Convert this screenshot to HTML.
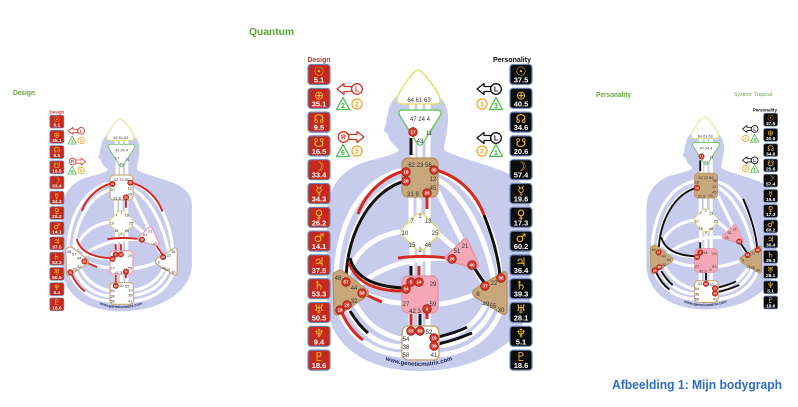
<!DOCTYPE html>
<html><head><meta charset="utf-8">
<style>
html,body{margin:0;padding:0;background:#fff}
svg{display:block}
.gt{font-family:"Liberation Sans",sans-serif;font-size:6px;fill:#333;text-anchor:middle}
.cc circle{fill:#d7392c;stroke:#9b1f15;stroke-width:.8}
.ct{font-family:"Liberation Sans",sans-serif;font-size:4.5px;font-weight:bold;fill:#fff;text-anchor:middle}
.dc rect{fill:#c4291d;stroke:#6e87b8;stroke-width:1.2}
.pc rect{fill:#0c0c0c;stroke:#6e87b8;stroke-width:1.2}
.gl{font-family:"DejaVu Sans",sans-serif;font-size:12px;fill:#f3c233;text-anchor:middle}
.nm{font-family:"Liberation Sans",sans-serif;font-size:7.5px;font-weight:bold;fill:#fff;text-anchor:middle}
.ar{font-family:"Liberation Sans",sans-serif;font-weight:bold;font-size:7px;text-anchor:middle}
.gm{font-family:"Liberation Sans",sans-serif;font-weight:bold;font-size:6px;fill:#1b2456}
</style></head><body>
<svg width="798" height="407" viewBox="0 0 798 407" xmlns="http://www.w3.org/2000/svg">
<defs>
<g id="bg">
<path fill="#c8ccec" d="M399,150C396,146 392,144 391,141C389,139 388,136 388,134C386,133 383,131 384,129C385,127 386,125 386,123C386,120 387,117 388,113C390,98 402,89 417,89C436,89 449,100 448,120C448,132 444,142 444,150C455,157 480,162 505,172C522,180 530,190 530,205L530,300C528,340 480,371 420,371C365,371 330,345 327,305L327,210C328,185 345,168 365,162C382,157 395,155 399,150Z"/>
<g fill="none" stroke="#fff" stroke-width="5" stroke-linecap="round">
<path d="M412,103V112M420,103V112M428,103V112M413,136V160M420,142V160M428,136V160M411,195V220M419,195V214M428,195V220M412,245V278M420,250V278M428,245V278M411,312V328M420,312V328M428,312V328"/>
<path d="M404,170C362,178 338,222 336,276"/>
<path d="M405,180C370,190 347,230 345,280"/>
<path d="M350,262C356,282 380,288 404,289"/>
<path d="M399,232C375,236 356,250 347,276"/>
<path d="M451,259C420,256 385,263 356,287"/>
<path d="M437,233L457,250"/>
<path d="M436,188L463,243"/>
<path d="M472,264L485,286"/>
<path d="M436,171C470,180 497,225 500,278"/>
<path d="M436,179C463,192 486,235 494,282"/>
<path d="M437,304C450,304 465,298 477,294"/>
<path d="M403,303C388,303 375,298 362,293"/>
<path d="M354,301C365,325 385,336 402,339"/>
<path d="M347,306C358,333 380,346 402,347"/>
<path d="M339,310C350,340 378,354 402,355"/>
<path d="M437,338C460,336 478,322 486,304"/>
<path d="M437,346C465,344 485,328 493,306"/>
<path d="M437,355C470,353 492,335 501,310"/>
</g>
</g>
<path id="hd" d="M418,70C423,70 440,94 440,99C440,103 438,104 434,104L403,104C399,104 397,103 397,99C397,94 413,70 418,70Z"/>
<path id="aj" d="M402,110L437,110C441,110 442,113 440,116L423,143C421,146 419,146 417,143L400,116C398,113 399,110 402,110Z"/>
<rect id="th" x="402" y="158" width="36" height="39" rx="6"/>
<rect id="gc" x="405" y="217" width="30" height="30" rx="7" transform="rotate(45 420 232)"/>
<path id="ht" d="M462,241C464,238 467,238 468,241L478,263C479,267 477,269 473,268L449,261C445,260 444,257 447,255Z"/>
<rect id="sc" x="402" y="276" width="36" height="37" rx="6"/>
<rect id="rt" x="402" y="326" width="37" height="34" rx="6"/>
<path id="sp" d="M336,272C338,270 341,270 344,272L366,289C369,291 369,295 366,297L340,314C337,316 334,315 334,311L333,276C333,274 334,272 336,272Z"/>
<path id="so" d="M503,272C506,271 507,273 507,276L507,310C507,314 505,315 502,314L475,297C472,295 472,291 475,289Z"/>
<path id="gmp" d="M378,357Q419,375 460,357" fill="none"/>
</defs>

<text x="249" y="35" font-family="Liberation Sans, sans-serif" font-weight="bold" font-size="10.5" fill="#5ba02f" textLength="45" lengthAdjust="spacingAndGlyphs">Quantum</text>
<text x="13" y="95" font-family="Liberation Sans, sans-serif" font-weight="bold" font-size="7.5" fill="#6aa341" textLength="22" lengthAdjust="spacingAndGlyphs">Design</text>
<text x="596" y="97" font-family="Liberation Sans, sans-serif" font-weight="bold" font-size="7.5" fill="#6aa341" textLength="35" lengthAdjust="spacingAndGlyphs">Personality</text>
<text x="734" y="96" font-family="Liberation Sans, sans-serif" font-size="5.5" fill="#6aa341" textLength="38" lengthAdjust="spacingAndGlyphs">System: Tropical</text>
<text x="612" y="389" font-family="Liberation Sans, sans-serif" font-weight="bold" font-size="13" fill="#2f6dc0" textLength="170" lengthAdjust="spacingAndGlyphs">Afbeelding 1: Mijn bodygraph</text>

<!-- CENTER CHART -->
<g>
<use href="#bg"/>
<g fill="none" stroke-width="3">
<path stroke="#d42a1f" d="M404,171C385,176 366,192 358,214"/>
<path stroke="#111" d="M405,181C372,190 348,230 346,278"/>
<path stroke="#d42a1f" d="M436,170C460,177 476,194 484,215"/>
<path stroke="#111" d="M484,215C492,235 498,255 500,276"/>
<path stroke="#d42a1f" d="M427,197V209"/>
<path stroke="#d42a1f" d="M448,258C430,256 412,256 398,258"/>
<path stroke="#111" d="M473,266L485,284"/>
<path stroke="#111" d="M411,138V155"/>
<path stroke="#111" d="M411,266V279"/>
<path stroke="#d42a1f" d="M419,266V279"/>
<path stroke="#d42a1f" d="M349,262C356,285 380,291 402,291"/>
<path stroke="#111" d="M350,258C356,281 380,287 404,288"/>
<path stroke="#d42a1f" d="M366,295L382,302"/>
<path stroke="#d42a1f" d="M411,314V327"/>
<path stroke="#111" d="M420,314V327"/>
<path stroke="#d42a1f" d="M427,312V319"/>
<path stroke="#d42a1f" d="M342,313C348,326 356,335 363,340"/>
<path stroke="#111" d="M350,311C356,321 362,328 368,333"/>
<path stroke="#111" d="M438,337C450,334 460,331 467,327"/>
<path stroke="#111" d="M438,344C452,341 462,337 472,333"/>
</g>
<use href="#hd" fill="#fff" stroke="#e3e07a" stroke-width="1.5"/>
<use href="#aj" fill="#fff" stroke="#72c66a" stroke-width="1.5"/>
<use href="#th" fill="#c9a77c" stroke="#b3905f" stroke-width="1.2"/>
<use href="#gc" fill="#fff" stroke="#e3e07a" stroke-width="1.5"/>
<use href="#ht" fill="#f4a7b6" stroke="#e38ea0" stroke-width="1.2"/>
<use href="#sc" fill="#f4a7b6" stroke="#e38ea0" stroke-width="1.2"/>
<use href="#rt" fill="#fff" stroke="#c9a77c" stroke-width="1.5"/>
<use href="#sp" fill="#c9a77c" stroke="#b3905f" stroke-width="1.2"/>
<use href="#so" fill="#c9a77c" stroke="#b3905f" stroke-width="1.2"/>
<g class="gt">
<text x="419" y="102">64 61 63</text><text x="420" y="121">47 24 4</text><text x="413" y="134">17</text><text x="429" y="135">11</text><text x="420" y="143">43</text>
<text x="420" y="167">62 23 56</text><text x="406" y="174">16</text><text x="406" y="183">20</text><text x="434" y="172">35</text><text x="433" y="181">12</text><text x="433" y="190">45</text><text x="413" y="196">31 8</text><text x="427" y="195">33</text>
<text x="420" y="218">1</text><text x="412" y="223">7</text><text x="428" y="223">13</text><text x="405" y="235">10</text><text x="435" y="235">25</text><text x="412" y="247">15</text><text x="428" y="247">46</text><text x="420" y="252">2</text>
<text x="465" y="248">21</text><text x="457" y="253">51</text><text x="452" y="261">26</text><text x="472" y="267">40</text>
<text x="411" y="284">5</text><text x="419" y="284">14</text><text x="433" y="286">29</text><text x="406" y="291">34</text><text x="406" y="306">27</text><text x="433" y="306">59</text><text x="415" y="313">42 3</text><text x="427" y="311">9</text>
<text x="411" y="333">53</text><text x="420" y="333">60</text><text x="429" y="334">52</text><text x="406" y="341">54</text><text x="434" y="340">19</text><text x="406" y="349">38</text><text x="434" y="348">39</text><text x="406" y="357">58</text><text x="434" y="357">41</text>
<text x="338" y="280">48</text><text x="346" y="284">57</text><text x="354" y="290">44</text><text x="362" y="295">50</text><text x="354" y="303">32</text><text x="347" y="307">28</text><text x="340" y="312">18</text>
<text x="501" y="280">36</text><text x="494" y="285">22</text><text x="485" y="288">37</text><text x="478" y="296">6</text><text x="486" y="306">49</text><text x="493" y="308">55</text><text x="501" y="312">30</text>
</g>
<g class="cc">
<circle cx="413" cy="132" r="4.3"/><circle cx="406" cy="172" r="4.3"/><circle cx="406" cy="181" r="4.3"/><circle cx="434" cy="170" r="4.3"/><circle cx="427" cy="193" r="4.3"/>
<circle cx="452" cy="259" r="4.3"/><circle cx="472" cy="265" r="4.3"/><circle cx="411" cy="282" r="4.3"/><circle cx="419" cy="282" r="4.3"/><circle cx="406" cy="289" r="4.3"/>
<circle cx="427" cy="309" r="4.3"/><circle cx="411" cy="331" r="4.3"/><circle cx="420" cy="331" r="4.3"/><circle cx="434" cy="338" r="4.3"/><circle cx="434" cy="346" r="4.3"/>
<circle cx="346" cy="282" r="4.3"/><circle cx="362" cy="293" r="4.3"/><circle cx="347" cy="305" r="4.3"/><circle cx="340" cy="310" r="4.3"/><circle cx="501" cy="278" r="4.3"/><circle cx="485" cy="286" r="4.3"/>
</g>
<g class="ct">
<text x="413" y="133.6">17</text><text x="406" y="173.6">16</text><text x="406" y="182.6">20</text><text x="434" y="171.6">35</text><text x="427" y="194.6">33</text>
<text x="452" y="260.6">26</text><text x="472" y="266.6">40</text><text x="411" y="283.6">5</text><text x="419" y="283.6">14</text><text x="406" y="290.6">34</text>
<text x="427" y="310.6">9</text><text x="411" y="332.6">53</text><text x="420" y="332.6">60</text><text x="434" y="339.6">19</text><text x="434" y="347.6">39</text>
<text x="346" y="283.6">57</text><text x="362" y="294.6">50</text><text x="347" y="306.6">28</text><text x="340" y="311.6">18</text><text x="501" y="279.6">36</text><text x="485" y="287.6">37</text>
</g>
<text class="gm"><textPath href="#gmp" startOffset="50%" text-anchor="middle">www.geneticmatrix.com</textPath></text>

<text x="319" y="62" font-family="Liberation Sans, sans-serif" font-weight="bold" font-size="7.5" fill="#c8342a" text-anchor="middle" textLength="23" lengthAdjust="spacingAndGlyphs">Design</text>
<g class="dc">
<rect x="308" y="64.5" width="22" height="20" rx="3"/><rect x="308" y="88.3" width="22" height="20" rx="3"/><rect x="308" y="112.1" width="22" height="20" rx="3"/><rect x="308" y="135.9" width="22" height="20" rx="3"/><rect x="308" y="159.7" width="22" height="20" rx="3"/><rect x="308" y="183.5" width="22" height="20" rx="3"/><rect x="308" y="207.3" width="22" height="20" rx="3"/><rect x="308" y="231.1" width="22" height="20" rx="3"/><rect x="308" y="254.9" width="22" height="20" rx="3"/><rect x="308" y="278.7" width="22" height="20" rx="3"/><rect x="308" y="302.5" width="22" height="20" rx="3"/><rect x="308" y="326.3" width="22" height="20" rx="3"/><rect x="308" y="350.1" width="22" height="20" rx="3"/>
</g>
<g class="gl">
<text x="319" y="75.5">☉</text><text x="319" y="99.3">⊕</text><text x="319" y="123.1">☊</text><text x="319" y="146.9">☋</text><text x="319" y="170.7">☽</text><text x="319" y="194.5">☿</text><text x="319" y="218.3">♀</text><text x="319" y="242.1">♂</text><text x="319" y="265.9">♃</text><text x="319" y="289.7">♄</text><text x="319" y="313.5">♅</text><text x="319" y="337.3">♆</text><text x="319" y="361.1">♇</text>
</g>
<g class="nm">
<text x="319" y="82.5">5.1</text><text x="319" y="106.3">35.1</text><text x="319" y="130.1">9.5</text><text x="319" y="153.9">16.5</text><text x="319" y="177.7">33.4</text><text x="319" y="201.5">34.3</text><text x="319" y="225.3">26.2</text><text x="319" y="249.1">14.1</text><text x="319" y="272.9">37.5</text><text x="319" y="296.7">53.3</text><text x="319" y="320.5">50.5</text><text x="319" y="344.3">9.4</text><text x="319" y="368.1">18.6</text>
</g>
<g stroke-width="1.3" stroke-linejoin="round" fill="#fff">
<path stroke="#d8352a" d="M337,89L344,83.5V86.5H351.5V91.5H344V94.5Z"/>
<circle cx="357" cy="89" r="5.3" stroke="#d8352a"/>
<path stroke="#d8352a" d="M364,137L357,131.5V134.5H348.5V139.5H357V142.5Z"/>
<circle cx="343.5" cy="137" r="5.3" stroke="#d8352a"/>
<path stroke="#4dbb4d" d="M343,97.5L349.5,109.5H336.5Z"/>
<path stroke="#4dbb4d" d="M343,144.5L349.5,156.5H336.5Z"/>
<circle cx="357" cy="104" r="5" stroke="#f2a42a"/>
<circle cx="357" cy="151" r="5" stroke="#f2a42a"/>
</g>
<g class="ar">
<text x="357" y="91.5" fill="#d8352a">L</text><text x="343.5" y="139.5" fill="#d8352a">R</text>
<text x="343" y="107.8" fill="#3da83d">2</text><text x="357" y="106.5" fill="#f2a42a">2</text>
<text x="343" y="154.8" fill="#3da83d">6</text><text x="357" y="153.5" fill="#f2a42a">5</text>
</g>

<text x="512" y="62" font-family="Liberation Sans, sans-serif" font-weight="bold" font-size="7.5" fill="#111" text-anchor="middle" textLength="38" lengthAdjust="spacingAndGlyphs">Personality</text>
<g class="pc">
<rect x="510" y="64.5" width="22" height="20" rx="3"/><rect x="510" y="88.3" width="22" height="20" rx="3"/><rect x="510" y="112.1" width="22" height="20" rx="3"/><rect x="510" y="135.9" width="22" height="20" rx="3"/><rect x="510" y="159.7" width="22" height="20" rx="3"/><rect x="510" y="183.5" width="22" height="20" rx="3"/><rect x="510" y="207.3" width="22" height="20" rx="3"/><rect x="510" y="231.1" width="22" height="20" rx="3"/><rect x="510" y="254.9" width="22" height="20" rx="3"/><rect x="510" y="278.7" width="22" height="20" rx="3"/><rect x="510" y="302.5" width="22" height="20" rx="3"/><rect x="510" y="326.3" width="22" height="20" rx="3"/><rect x="510" y="350.1" width="22" height="20" rx="3"/>
</g>
<g class="gl">
<text x="521" y="75.5">☉</text><text x="521" y="99.3">⊕</text><text x="521" y="123.1">☊</text><text x="521" y="146.9">☋</text><text x="521" y="170.7">☽</text><text x="521" y="194.5">☿</text><text x="521" y="218.3">♀</text><text x="521" y="242.1">♂</text><text x="521" y="265.9">♃</text><text x="521" y="289.7">♄</text><text x="521" y="313.5">♅</text><text x="521" y="337.3">♆</text><text x="521" y="361.1">♇</text>
</g>
<g class="nm">
<text x="521" y="82.5">37.5</text><text x="521" y="106.3">40.5</text><text x="521" y="130.1">34.6</text><text x="521" y="153.9">20.6</text><text x="521" y="177.7">57.4</text><text x="521" y="201.5">19.6</text><text x="521" y="225.3">17.3</text><text x="521" y="249.1">60.2</text><text x="521" y="272.9">36.4</text><text x="521" y="296.7">39.3</text><text x="521" y="320.5">28.1</text><text x="521" y="344.3">5.1</text><text x="521" y="368.1">18.6</text>
</g>
<g stroke-width="1.3" stroke-linejoin="round" fill="#fff">
<path stroke="#111" d="M477,89L484,83.5V86.5H490.7V91.5H484V94.5Z"/>
<circle cx="496" cy="89" r="5.3" stroke="#111"/>
<path stroke="#111" d="M477,138L484,132.5V135.5H490.7V140.5H484V143.5Z"/>
<circle cx="496" cy="138" r="5.3" stroke="#111"/>
<circle cx="482" cy="104" r="5" stroke="#f2a42a"/>
<circle cx="482" cy="151" r="5" stroke="#f2a42a"/>
<path stroke="#4dbb4d" d="M496,97.5L502.5,109.5H489.5Z"/>
<path stroke="#4dbb4d" d="M496,144.5L502.5,156.5H489.5Z"/>
</g>
<g class="ar">
<text x="496" y="91.5" fill="#111">L</text><text x="496" y="140.5" fill="#111">L</text>
<text x="482" y="106.5" fill="#f2a42a">1</text><text x="496" y="107.8" fill="#3da83d">3</text>
<text x="482" y="153.5" fill="#f2a42a">2</text><text x="496" y="154.8" fill="#3da83d">1</text>
</g>
</g>

<!-- LEFT (DESIGN) CHART -->
<g transform="matrix(0.64 0 0 0.64 -147.3 73.9)">
<use href="#bg"/>
<g fill="none" stroke-width="3" stroke="#d42a1f">
<path d="M404,171C385,176 366,192 358,214"/>
<path d="M436,170C460,177 476,194 484,215"/>
<path d="M427,197V209"/>
<path d="M448,258C430,256 412,256 398,258"/>
<path d="M473,266L485,284"/>
<path d="M411,266V279"/>
<path d="M419,266V279"/>
<path d="M350,258C356,281 380,287 404,288"/>
<path d="M366,295L382,302"/>
<path d="M411,314V327"/>
<path d="M427,312V319"/>
<path d="M342,313C348,326 356,335 363,340"/>
</g>
<use href="#hd" fill="#fff" stroke="#e3e07a" stroke-width="1.5"/>
<use href="#aj" fill="#fff" stroke="#72c66a" stroke-width="1.5"/>
<use href="#th" fill="#fff" stroke="#c9a77c" stroke-width="1.8"/>
<use href="#gc" fill="#fff" stroke="#e3e07a" stroke-width="1.5"/>
<use href="#ht" fill="#fff" stroke="#eb9aab" stroke-width="1.8"/>
<use href="#sc" fill="#fff" stroke="#eb9aab" stroke-width="1.8"/>
<use href="#rt" fill="#fff" stroke="#c9a77c" stroke-width="1.8"/>
<use href="#sp" fill="#fff" stroke="#c9a77c" stroke-width="1.8"/>
<use href="#so" fill="#fff" stroke="#c9a77c" stroke-width="1.8"/>
<g class="gt">
<text x="419" y="102">64 61 63</text><text x="420" y="121">47 24 4</text><text x="413" y="134">17</text><text x="429" y="135">11</text><text x="420" y="143">43</text>
<text x="420" y="167">62 23 56</text><text x="406" y="174">16</text><text x="406" y="183">20</text><text x="434" y="172">35</text><text x="433" y="181">12</text><text x="433" y="190">45</text><text x="413" y="196">31 8</text><text x="427" y="195">33</text>
<text x="420" y="218">1</text><text x="412" y="223">7</text><text x="428" y="223">13</text><text x="405" y="235">10</text><text x="435" y="235">25</text><text x="412" y="247">15</text><text x="428" y="247">46</text><text x="420" y="252">2</text>
<text x="465" y="248">21</text><text x="457" y="253">51</text><text x="452" y="261">26</text><text x="472" y="267">40</text>
<text x="411" y="284">5</text><text x="419" y="284">14</text><text x="433" y="286">29</text><text x="406" y="291">34</text><text x="406" y="306">27</text><text x="433" y="306">59</text><text x="415" y="313">42 3</text><text x="427" y="311">9</text>
<text x="411" y="333">53</text><text x="420" y="333">60</text><text x="429" y="334">52</text><text x="406" y="341">54</text><text x="434" y="340">19</text><text x="406" y="349">38</text><text x="434" y="348">39</text><text x="406" y="357">58</text><text x="434" y="357">41</text>
<text x="338" y="280">48</text><text x="346" y="284">57</text><text x="354" y="290">44</text><text x="362" y="295">50</text><text x="354" y="303">32</text><text x="347" y="307">28</text><text x="340" y="312">18</text>
<text x="501" y="280">36</text><text x="494" y="285">22</text><text x="485" y="288">37</text><text x="478" y="296">6</text><text x="486" y="306">49</text><text x="493" y="308">55</text><text x="501" y="312">30</text>
</g>
<g class="cc">
<circle cx="411" cy="282" r="4.3"/><circle cx="434" cy="170" r="4.3"/><circle cx="427" cy="309" r="4.3"/><circle cx="406" cy="172" r="4.3"/><circle cx="427" cy="193" r="4.3"/><circle cx="406" cy="289" r="4.3"/>
<circle cx="452" cy="259" r="4.3"/><circle cx="419" cy="282" r="4.3"/><circle cx="485" cy="286" r="4.3"/><circle cx="411" cy="331" r="4.3"/><circle cx="362" cy="293" r="4.3"/><circle cx="340" cy="310" r="4.3"/>
</g>
<g class="ct">
<text x="411" y="283.6">5</text><text x="434" y="171.6">35</text><text x="427" y="310.6">9</text><text x="406" y="173.6">16</text><text x="427" y="194.6">33</text><text x="406" y="290.6">34</text>
<text x="452" y="260.6">26</text><text x="419" y="283.6">14</text><text x="485" y="287.6">37</text><text x="411" y="332.6">53</text><text x="362" y="294.6">50</text><text x="340" y="311.6">18</text>
</g>
<text class="gm"><textPath href="#gmp" startOffset="50%" text-anchor="middle">www.geneticmatrix.com</textPath></text>
<text x="319" y="62" font-family="Liberation Sans, sans-serif" font-weight="bold" font-size="7.5" fill="#c8342a" text-anchor="middle" textLength="23" lengthAdjust="spacingAndGlyphs">Design</text>
<g class="dc">
<rect x="308" y="64.5" width="22" height="20" rx="3"/><rect x="308" y="88.3" width="22" height="20" rx="3"/><rect x="308" y="112.1" width="22" height="20" rx="3"/><rect x="308" y="135.9" width="22" height="20" rx="3"/><rect x="308" y="159.7" width="22" height="20" rx="3"/><rect x="308" y="183.5" width="22" height="20" rx="3"/><rect x="308" y="207.3" width="22" height="20" rx="3"/><rect x="308" y="231.1" width="22" height="20" rx="3"/><rect x="308" y="254.9" width="22" height="20" rx="3"/><rect x="308" y="278.7" width="22" height="20" rx="3"/><rect x="308" y="302.5" width="22" height="20" rx="3"/><rect x="308" y="326.3" width="22" height="20" rx="3"/><rect x="308" y="350.1" width="22" height="20" rx="3"/>
</g>
<g class="gl">
<text x="319" y="75.5">☉</text><text x="319" y="99.3">⊕</text><text x="319" y="123.1">☊</text><text x="319" y="146.9">☋</text><text x="319" y="170.7">☽</text><text x="319" y="194.5">☿</text><text x="319" y="218.3">♀</text><text x="319" y="242.1">♂</text><text x="319" y="265.9">♃</text><text x="319" y="289.7">♄</text><text x="319" y="313.5">♅</text><text x="319" y="337.3">♆</text><text x="319" y="361.1">♇</text>
</g>
<g class="nm">
<text x="319" y="82.5">5.1</text><text x="319" y="106.3">35.1</text><text x="319" y="130.1">9.5</text><text x="319" y="153.9">16.5</text><text x="319" y="177.7">33.4</text><text x="319" y="201.5">34.3</text><text x="319" y="225.3">26.2</text><text x="319" y="249.1">14.1</text><text x="319" y="272.9">37.5</text><text x="319" y="296.7">53.3</text><text x="319" y="320.5">50.5</text><text x="319" y="344.3">9.4</text><text x="319" y="368.1">18.6</text>
</g>
<g stroke-width="1.3" stroke-linejoin="round" fill="#fff">
<path stroke="#d8352a" d="M337,89L344,83.5V86.5H351.5V91.5H344V94.5Z"/>
<circle cx="357" cy="89" r="5.3" stroke="#d8352a"/>
<path stroke="#d8352a" d="M364,137L357,131.5V134.5H348.5V139.5H357V142.5Z"/>
<circle cx="343.5" cy="137" r="5.3" stroke="#d8352a"/>
<path stroke="#4dbb4d" d="M343,97.5L349.5,109.5H336.5Z"/>
<path stroke="#4dbb4d" d="M343,144.5L349.5,156.5H336.5Z"/>
<circle cx="357" cy="104" r="5" stroke="#f2a42a"/>
<circle cx="357" cy="151" r="5" stroke="#f2a42a"/>
</g>
<g class="ar">
<text x="357" y="91.5" fill="#d8352a">L</text><text x="343.5" y="139.5" fill="#d8352a">R</text>
<text x="343" y="107.8" fill="#3da83d">2</text><text x="357" y="106.5" fill="#f2a42a">2</text>
<text x="343" y="154.8" fill="#3da83d">6</text><text x="357" y="153.5" fill="#f2a42a">5</text>
</g>
</g>

<!-- RIGHT (PERSONALITY) CHART -->
<g transform="matrix(0.64 0 0 0.64 437.2 72)">
<use href="#bg"/>
<g fill="none" stroke-width="3" stroke="#111">
<path d="M411,138V155"/>
<path d="M405,181C372,190 348,230 346,278"/>
<path d="M478,198C490,225 498,250 500,276"/>
<path d="M473,266L485,284"/>
<path d="M411,266V279"/>
<path d="M350,258C356,281 380,287 404,288"/>
<path d="M420,314V327"/>
<path d="M350,311C356,321 362,328 368,333"/>
<path d="M342,313C348,326 356,335 363,340"/>
<path d="M438,337C450,334 460,331 467,327"/>
<path d="M438,344C452,341 462,337 472,333"/>
</g>
<use href="#hd" fill="#fff" stroke="#e3e07a" stroke-width="1.5"/>
<use href="#aj" fill="#fff" stroke="#72c66a" stroke-width="1.5"/>
<use href="#th" fill="#c9a77c" stroke="#b3905f" stroke-width="1.2"/>
<use href="#gc" fill="#fff" stroke="#e3e07a" stroke-width="1.5"/>
<use href="#ht" fill="#f4a7b6" stroke="#e38ea0" stroke-width="1.2"/>
<use href="#sc" fill="#f4a7b6" stroke="#e38ea0" stroke-width="1.2"/>
<use href="#rt" fill="#fff" stroke="#c9a77c" stroke-width="1.8"/>
<use href="#sp" fill="#c9a77c" stroke="#b3905f" stroke-width="1.2"/>
<use href="#so" fill="#c9a77c" stroke="#b3905f" stroke-width="1.2"/>
<g class="gt">
<text x="419" y="102">64 61 63</text><text x="420" y="121">47 24 4</text><text x="413" y="134">17</text><text x="429" y="135">11</text><text x="420" y="143">43</text>
<text x="420" y="167">62 23 56</text><text x="406" y="174">16</text><text x="406" y="183">20</text><text x="434" y="172">35</text><text x="433" y="181">12</text><text x="433" y="190">45</text><text x="413" y="196">31 8</text><text x="427" y="195">33</text>
<text x="420" y="218">1</text><text x="412" y="223">7</text><text x="428" y="223">13</text><text x="405" y="235">10</text><text x="435" y="235">25</text><text x="412" y="247">15</text><text x="428" y="247">46</text><text x="420" y="252">2</text>
<text x="465" y="248">21</text><text x="457" y="253">51</text><text x="452" y="261">26</text><text x="472" y="267">40</text>
<text x="411" y="284">5</text><text x="419" y="284">14</text><text x="433" y="286">29</text><text x="406" y="291">34</text><text x="406" y="306">27</text><text x="433" y="306">59</text><text x="415" y="313">42 3</text><text x="427" y="311">9</text>
<text x="411" y="333">53</text><text x="420" y="333">60</text><text x="429" y="334">52</text><text x="406" y="341">54</text><text x="434" y="340">19</text><text x="406" y="349">38</text><text x="434" y="348">39</text><text x="406" y="357">58</text><text x="434" y="357">41</text>
<text x="338" y="280">48</text><text x="346" y="284">57</text><text x="354" y="290">44</text><text x="362" y="295">50</text><text x="354" y="303">32</text><text x="347" y="307">28</text><text x="340" y="312">18</text>
<text x="501" y="280">36</text><text x="494" y="285">22</text><text x="485" y="288">37</text><text x="478" y="296">6</text><text x="486" y="306">49</text><text x="493" y="308">55</text><text x="501" y="312">30</text>
</g>
<g class="cc">
<circle cx="485" cy="286" r="4.3"/><circle cx="472" cy="265" r="4.3"/><circle cx="406" cy="289" r="4.3"/><circle cx="406" cy="181" r="4.3"/><circle cx="346" cy="282" r="4.3"/><circle cx="434" cy="338" r="4.3"/><circle cx="413" cy="132" r="4.3"/>
<circle cx="420" cy="331" r="4.3"/><circle cx="501" cy="278" r="4.3"/><circle cx="434" cy="346" r="4.3"/><circle cx="347" cy="305" r="4.3"/><circle cx="411" cy="282" r="4.3"/><circle cx="340" cy="310" r="4.3"/>
</g>
<g class="ct">
<text x="485" y="287.6">37</text><text x="472" y="266.6">40</text><text x="406" y="290.6">34</text><text x="406" y="182.6">20</text><text x="346" y="283.6">57</text><text x="434" y="339.6">19</text><text x="413" y="133.6">17</text>
<text x="420" y="332.6">60</text><text x="501" y="279.6">36</text><text x="434" y="347.6">39</text><text x="347" y="306.6">28</text><text x="411" y="283.6">5</text><text x="340" y="311.6">18</text>
</g>
<text class="gm"><textPath href="#gmp" startOffset="50%" text-anchor="middle">www.geneticmatrix.com</textPath></text>
<text x="512" y="62" font-family="Liberation Sans, sans-serif" font-weight="bold" font-size="7.5" fill="#111" text-anchor="middle" textLength="38" lengthAdjust="spacingAndGlyphs">Personality</text>
<g class="pc">
<rect x="510" y="64.5" width="22" height="20" rx="3"/><rect x="510" y="88.3" width="22" height="20" rx="3"/><rect x="510" y="112.1" width="22" height="20" rx="3"/><rect x="510" y="135.9" width="22" height="20" rx="3"/><rect x="510" y="159.7" width="22" height="20" rx="3"/><rect x="510" y="183.5" width="22" height="20" rx="3"/><rect x="510" y="207.3" width="22" height="20" rx="3"/><rect x="510" y="231.1" width="22" height="20" rx="3"/><rect x="510" y="254.9" width="22" height="20" rx="3"/><rect x="510" y="278.7" width="22" height="20" rx="3"/><rect x="510" y="302.5" width="22" height="20" rx="3"/><rect x="510" y="326.3" width="22" height="20" rx="3"/><rect x="510" y="350.1" width="22" height="20" rx="3"/>
</g>
<g class="gl">
<text x="521" y="75.5">☉</text><text x="521" y="99.3">⊕</text><text x="521" y="123.1">☊</text><text x="521" y="146.9">☋</text><text x="521" y="170.7">☽</text><text x="521" y="194.5">☿</text><text x="521" y="218.3">♀</text><text x="521" y="242.1">♂</text><text x="521" y="265.9">♃</text><text x="521" y="289.7">♄</text><text x="521" y="313.5">♅</text><text x="521" y="337.3">♆</text><text x="521" y="361.1">♇</text>
</g>
<g class="nm">
<text x="521" y="82.5">37.5</text><text x="521" y="106.3">40.5</text><text x="521" y="130.1">34.6</text><text x="521" y="153.9">20.6</text><text x="521" y="177.7">57.4</text><text x="521" y="201.5">19.6</text><text x="521" y="225.3">17.3</text><text x="521" y="249.1">60.2</text><text x="521" y="272.9">36.4</text><text x="521" y="296.7">39.3</text><text x="521" y="320.5">28.1</text><text x="521" y="344.3">5.1</text><text x="521" y="368.1">18.6</text>
</g>
<g stroke-width="1.3" stroke-linejoin="round" fill="#fff">
<path stroke="#111" d="M477,89L484,83.5V86.5H490.7V91.5H484V94.5Z"/>
<circle cx="496" cy="89" r="5.3" stroke="#111"/>
<path stroke="#111" d="M477,138L484,132.5V135.5H490.7V140.5H484V143.5Z"/>
<circle cx="496" cy="138" r="5.3" stroke="#111"/>
<circle cx="482" cy="104" r="5" stroke="#f2a42a"/>
<circle cx="482" cy="151" r="5" stroke="#f2a42a"/>
<path stroke="#4dbb4d" d="M496,97.5L502.5,109.5H489.5Z"/>
<path stroke="#4dbb4d" d="M496,144.5L502.5,156.5H489.5Z"/>
</g>
<g class="ar">
<text x="496" y="91.5" fill="#111">L</text><text x="496" y="140.5" fill="#111">L</text>
<text x="482" y="106.5" fill="#f2a42a">1</text><text x="496" y="107.8" fill="#3da83d">3</text>
<text x="482" y="153.5" fill="#f2a42a">2</text><text x="496" y="154.8" fill="#3da83d">1</text>
</g>
</g>
</svg>
</body></html>
